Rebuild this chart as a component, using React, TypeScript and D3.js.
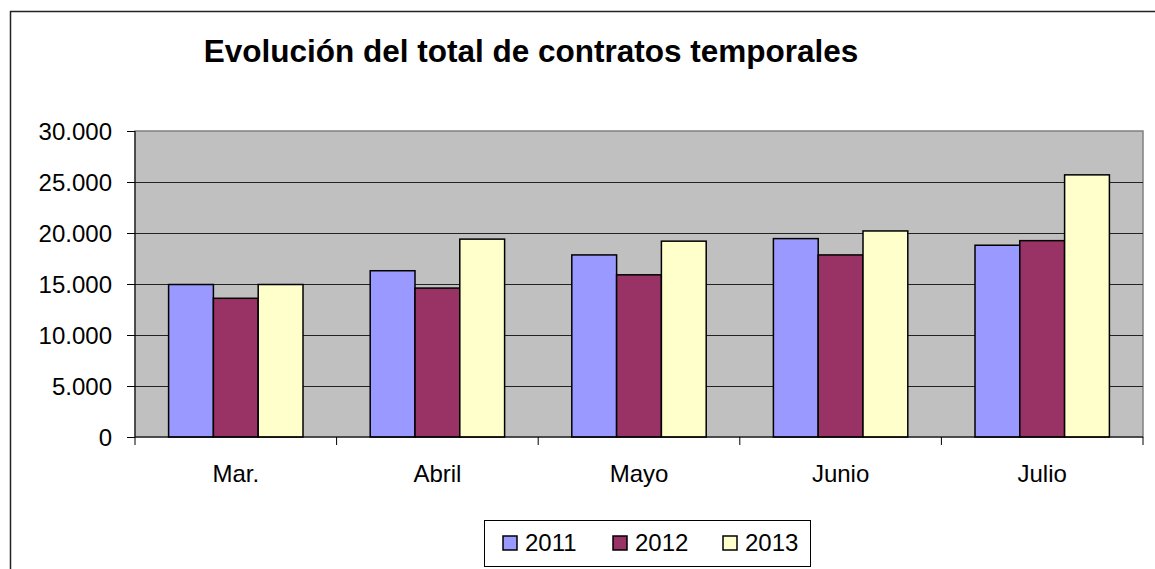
import { useEffect, useRef } from 'react';
import * as d3 from 'd3';

const MONTHS = ['Mar.', 'Abril', 'Mayo', 'Junio', 'Julio'];
const YEARS = ['2011', '2012', '2013'];
const V2011 = [14950, 16300, 17850, 19450, 18800];
const V2012 = [13600, 14600, 15900, 17850, 19250];
const V2013 = [14950, 19400, 19200, 20200, 25700];
const Y_TICKS = [0, 5000, 10000, 15000, 20000, 25000, 30000];
const COLORS = ['#9999FF', '#993366', '#FFFFCC'];

const fmt = (d: number) => (d === 0 ? '0' : d3.format(',')(d).replace(/,/g, '.'));

export default function App() {
  const svgRef = useRef<SVGSVGElement>(null);

  useEffect(() => {
    const W = 1155, H = 569;
    const M = { top: 131, right: 12, bottom: 132, left: 135 };
    const FONT = '"Liberation Sans", Arial, sans-serif';
    const series = [V2011, V2012, V2013];

    const svg = d3.select(svgRef.current);
    svg.selectAll('*').remove();
    svg.attr('width', W).attr('height', H);

    // outer chart frame
    svg.append('rect')
      .attr('x', 10.5).attr('y', 11.5).attr('width', W + 20).attr('height', H + 20)
      .attr('fill', 'white').attr('stroke', '#222').attr('stroke-width', 1.5);

    const x0 = d3.scaleBand().domain(MONTHS).range([M.left, W - M.right]).paddingInner(0).paddingOuter(0);
    const y = d3.scaleLinear().domain([0, 30000]).range([H - M.bottom, M.top]);
    const bw = x0.bandwidth() / 4.5;

    // plot area
    svg.append('rect')
      .attr('x', M.left).attr('y', M.top)
      .attr('width', W - M.right - M.left).attr('height', H - M.bottom - M.top)
      .attr('fill', '#C0C0C0').attr('stroke', '#808080').attr('stroke-width', 1.5);

    // gridlines
    svg.append('g').selectAll('line').data(Y_TICKS.filter(t => t > 0 && t < 30000)).join('line')
      .attr('x1', M.left).attr('x2', W - M.right)
      .attr('y1', d => Math.round(y(d)) + 0.5).attr('y2', d => Math.round(y(d)) + 0.5)
      .attr('stroke', '#222').attr('stroke-width', 1);

    // bars
    MONTHS.forEach((m, i) => {
      const gx = (x0(m) ?? 0) + bw * 0.75;
      series.forEach((s, j) => {
        svg.append('rect')
          .attr('x', gx + j * bw).attr('y', y(s[i]))
          .attr('width', bw).attr('height', y(0) - y(s[i]))
          .attr('fill', COLORS[j]).attr('stroke', '#000').attr('stroke-width', 1.5);
      });
    });

    // y axis
    svg.append('g')
      .attr('transform', `translate(${M.left},0)`)
      .call(d3.axisLeft(y).tickValues(Y_TICKS).tickSize(8).tickPadding(15).tickFormat(d => fmt(+d)))
      .call(ax => ax.select('.domain').attr('stroke', '#000').attr('d', `M0,${M.top}V${H - M.bottom}`))
      .call(ax => ax.selectAll('.tick line').attr('stroke', '#000'))
      .call(ax => ax.selectAll('.tick text').attr('fill', '#000').attr('font-size', 24).attr('font-family', FONT).attr('dy', '0.36em'));

    // x axis with ticks at category boundaries
    const xg = svg.append('g').attr('transform', `translate(0,${H - M.bottom})`);
    xg.append('line').attr('x1', M.left).attr('x2', W - M.right).attr('stroke', '#000');
    xg.selectAll('line.t').data(d3.range(MONTHS.length + 1)).join('line')
      .attr('class', 't')
      .attr('x1', i => M.left + i * x0.step()).attr('x2', i => M.left + i * x0.step())
      .attr('y1', 0).attr('y2', 8).attr('stroke', '#000');
    xg.selectAll('text').data(MONTHS).join('text')
      .attr('x', d => (x0(d) ?? 0) + x0.bandwidth() / 2).attr('y', 45)
      .attr('text-anchor', 'middle').attr('font-size', 24).attr('font-family', FONT).attr('fill', '#000')
      .text(d => d);

    // title
    svg.append('text')
      .attr('x', 531).attr('y', 62).attr('text-anchor', 'middle')
      .attr('font-size', 31.5).attr('font-weight', 'bold').attr('font-family', FONT).attr('fill', '#000')
      .text('Evolución del total de contratos temporales');

    // legend
    const lg = svg.append('g');
    lg.append('rect').attr('x', 484.5).attr('y', 520.5).attr('width', 326).attr('height', 46)
      .attr('fill', 'white').attr('stroke', '#000').attr('stroke-width', 1);
    const itemX = [503, 613, 723];
    YEARS.forEach((yr, j) => {
      lg.append('rect').attr('x', itemX[j]).attr('y', 536).attr('width', 14).attr('height', 14)
        .attr('fill', COLORS[j]).attr('stroke', '#000').attr('stroke-width', 1.5);
      lg.append('text').attr('x', itemX[j] + 22).attr('y', 551)
        .attr('font-size', 24).attr('font-family', FONT).attr('fill', '#000').text(yr);
    });
  }, []);

  return <svg ref={svgRef} style={{ position: 'absolute', left: 0, top: 0 }} />;
}
